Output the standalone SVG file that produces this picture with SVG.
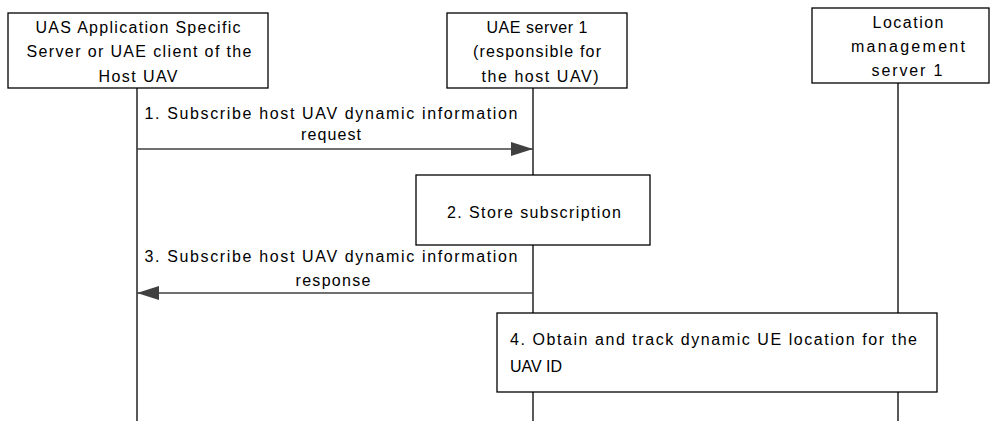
<svg xmlns="http://www.w3.org/2000/svg" width="991" height="421" viewBox="0 0 991 421">
<style>
.box{fill:#fff;stroke:#000;stroke-width:1.3}
.life{stroke:#000;stroke-width:1.3;fill:none}
.msg{stroke:#404040;stroke-width:1.3;fill:none}
text{font-family:"Liberation Sans",Arial,sans-serif;font-size:16px;fill:#000}
.c{text-anchor:middle}
</style>
<defs>
<marker id="ah" viewBox="0 0 22 14" refX="22" refY="7" markerWidth="22" markerHeight="14" markerUnits="userSpaceOnUse" orient="auto">
<path d="M0,0 L22,7 L0,14 Z" fill="#404040"/>
</marker>
</defs>
<g id="lifelines">
<line class="life" x1="137" y1="88" x2="137" y2="421"/>
<line class="life" x1="533" y1="88" x2="533" y2="421"/>
<line class="life" x1="898" y1="83" x2="898" y2="421"/>
</g>
<g id="node-uas">
<rect class="box" x="8" y="13" width="260" height="75"/>
<text class="c" x="138" y="33" textLength="205" lengthAdjust="spacing">UAS Application Specific</text>
<text class="c" x="139" y="57" textLength="225" lengthAdjust="spacing">Server or UAE client of the</text>
<text class="c" x="138" y="82" textLength="79" lengthAdjust="spacing">Host UAV</text>
</g>
<g id="node-uae">
<rect class="box" x="447" y="13" width="180" height="75"/>
<text class="c" x="537" y="33" textLength="101" lengthAdjust="spacing">UAE server 1</text>
<text class="c" x="537" y="57" textLength="128" lengthAdjust="spacing">(responsible for</text>
<text class="c" x="540" y="82" textLength="117" lengthAdjust="spacing">the host UAV)</text>
</g>
<g id="node-lms">
<rect class="box" x="812" y="8" width="177" height="75"/>
<text class="c" x="908" y="28" textLength="71" lengthAdjust="spacing">Location</text>
<text class="c" x="908" y="52" textLength="114" lengthAdjust="spacing">management</text>
<text class="c" x="907" y="76" textLength="71" lengthAdjust="spacing">server 1</text>
</g>
<g id="node-store">
<rect class="box" x="416" y="175" width="234" height="70"/>
<text class="c" x="534" y="218" textLength="174" lengthAdjust="spacing">2. Store subscription</text>
</g>
<g id="node-track">
<rect class="box" x="497" y="313" width="440" height="79"/>
<text x="510" y="345" textLength="407" lengthAdjust="spacing">4. Obtain and track dynamic UE location for the</text>
<text x="510" y="372" textLength="52" lengthAdjust="spacing">UAV ID</text>
</g>
<g id="connectors">
<line class="msg" x1="137" y1="149" x2="533" y2="149" marker-end="url(#ah)"/>
<text class="c" x="331" y="119" textLength="373" lengthAdjust="spacing">1. Subscribe host UAV dynamic information</text>
<text class="c" x="331" y="140" textLength="60" lengthAdjust="spacing">request</text>
<line class="msg" x1="533" y1="293" x2="137" y2="293" marker-end="url(#ah)"/>
<text class="c" x="331" y="262" textLength="373" lengthAdjust="spacing">3. Subscribe host UAV dynamic information</text>
<text class="c" x="333" y="286" textLength="75" lengthAdjust="spacing">response</text>
</g>
</svg>
